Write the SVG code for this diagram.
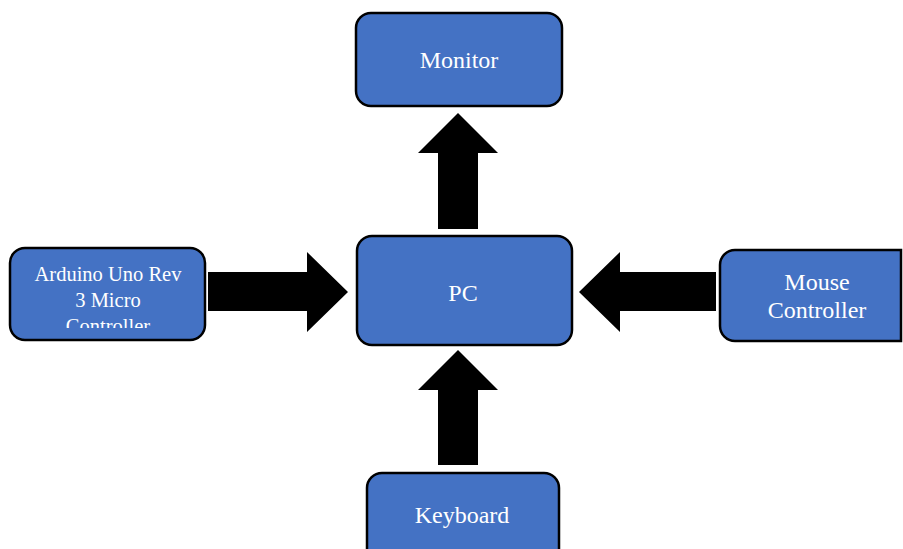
<svg xmlns="http://www.w3.org/2000/svg" width="903" height="549" viewBox="0 0 903 549">
<style>
.box{fill:#4472C4;stroke:#000;stroke-width:2.5}
.t{fill:#fff;font-family:"Liberation Serif","Times New Roman",serif;font-size:24px;text-anchor:middle}
.ts{font-size:20.5px}
.arr{fill:#000}
</style>
<defs>
<clipPath id="ac"><rect x="0" y="240" width="220" height="88"/></clipPath>
</defs>
<rect width="903" height="549" fill="#fff"/>
<g id="connectors">
<polygon class="arr" points="438,229 438,153 418,153 458,113 498,153 478,153 478,229"/>
<polygon class="arr" points="208,272 307,272 307,252 348,292 307,332 307,311 208,311"/>
<polygon class="arr" points="716,272 620,272 620,252 579,292 620,332 620,311 716,311"/>
<polygon class="arr" points="438,465 438,390 418,390 458,350 498,390 478,390 478,465"/>
</g>
<g id="monitor">
<rect class="box" x="356" y="13" width="206" height="93" rx="15"/>
<text class="t" x="459" y="68">Monitor</text>
</g>
<g id="pc">
<rect class="box" x="357" y="236" width="215" height="109" rx="15"/>
<text class="t" x="463" y="301">PC</text>
</g>
<g id="arduino">
<rect class="box" x="10" y="248" width="195" height="92" rx="15"/>
<g clip-path="url(#ac)">
<text class="t ts" x="108" y="281">Arduino Uno Rev</text>
<text class="t ts" x="108" y="307">3 Micro</text>
<text class="t ts" x="108" y="333">Controller</text>
</g>
</g>
<g id="mouse">
<path class="box" d="M735,250 H901 V341 H735 A15,15 0 0 1 720,326 V265 A15,15 0 0 1 735,250 Z"/>
<text class="t" x="817" y="290">Mouse</text>
<text class="t" x="817" y="318">Controller</text>
</g>
<g id="keyboard">
<rect class="box" x="367" y="473" width="192" height="100" rx="15"/>
<text class="t" x="462" y="523">Keyboard</text>
</g>
</svg>
